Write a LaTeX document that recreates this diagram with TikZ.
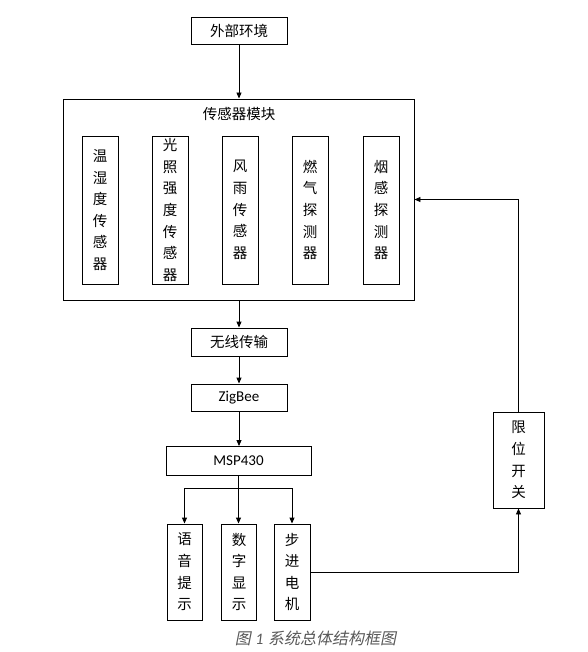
\documentclass[tikz,border=0pt]{standalone}
\usepackage{fontspec}
\setmainfont{Noto Sans CJK SC}
\newfontfamily\latfont{Carlito}
\newfontfamily\capfont[FakeSlant=0.2]{Noto Sans CJK SC}
\usetikzlibrary{arrows.meta}
\definecolor{capgray}{RGB}{89,89,89}
\begin{document}
\begin{tikzpicture}[x=1pt,y=-1pt,
  box/.style={draw,line width=0.9pt,inner sep=0pt,align=center,
    font=\fontsize{14.5}{21.6}\selectfont},
  latbox/.style={box,font=\fontsize{15}{18}\selectfont\latfont},
  arr/.style={line width=0.9pt,-{Triangle[length=6pt,width=5pt]}},
  conn/.style={line width=0.9pt}]
\fill[white] (0,0) rectangle (587,652);
\useasboundingbox (0,0) rectangle (587,652);
% top
\node[box,minimum width=96pt,minimum height=27pt] (env) at (239,30.5) {外部环境};
\node[box,minimum width=351pt,minimum height=201pt] (module) at (238.5,199.5) {};
\node[font=\fontsize{14.5}{18}\selectfont,inner sep=0pt] (title) at (239,114) {传感器模块};
\node[box,minimum width=36pt,minimum height=148pt] (s1) at (100,210) {温\\湿\\度\\传\\感\\器};
\node[box,minimum width=36pt,minimum height=148pt] (s2) at (170,210) {光\\照\\强\\度\\传\\感\\器};
\node[box,minimum width=36pt,minimum height=148pt] (s3) at (240,210) {风\\雨\\传\\感\\器};
\node[box,minimum width=36pt,minimum height=148pt] (s4) at (310,210) {燃\\气\\探\\测\\器};
\node[box,minimum width=36pt,minimum height=148pt] (s5) at (381,210) {烟\\感\\探\\测\\器};
% middle chain
\node[box,minimum width=96pt,minimum height=28pt] (wl) at (239,342) {无线传输};
\node[latbox,minimum width=96pt,minimum height=27pt] (zb) at (239,397.5) {ZigBee};
\node[latbox,minimum width=145pt,minimum height=29pt] (msp) at (238.5,461) {MSP430};
% outputs
\node[box,minimum width=35pt,minimum height=96pt] (voice) at (184.5,572) {语\\音\\提\\示};
\node[box,minimum width=35pt,minimum height=96pt] (digit) at (239,572) {数\\字\\显\\示};
\node[box,minimum width=36pt,minimum height=96pt] (motor) at (292,572) {步\\进\\电\\机};
\node[box,minimum width=51pt,minimum height=96pt] (limit) at (518.5,460) {限\\位\\开\\关};
\coordinate (br) at (238.5,488);
% connectors
\draw[arr] (env.south) -- (env.south |- module.north);
\draw[arr] (module.south -| wl.north) -- (wl.north);
\draw[arr] (wl.south) -- (zb.north);
\draw[arr] (zb.south) -- (zb.south |- msp.north);
\draw[conn] (msp.south) -- (br);
\draw[arr] (br) -| (voice.north);
\draw[arr] (br) -- (br |- digit.north);
\draw[arr] (br) -| (motor.north);
\draw[arr] (motor.east) -| (limit.south);
\draw[arr] (limit.north) |- (module.east);
% caption
\node[inner sep=0pt,text=capgray,font=\fontsize{16}{18}\selectfont\capfont] (cap) at (315.5,638) {图\hspace{4.5pt}{\latfont\itshape 1}\hspace{4.5pt}系统总体结构框图};
\end{tikzpicture}
\end{document}
